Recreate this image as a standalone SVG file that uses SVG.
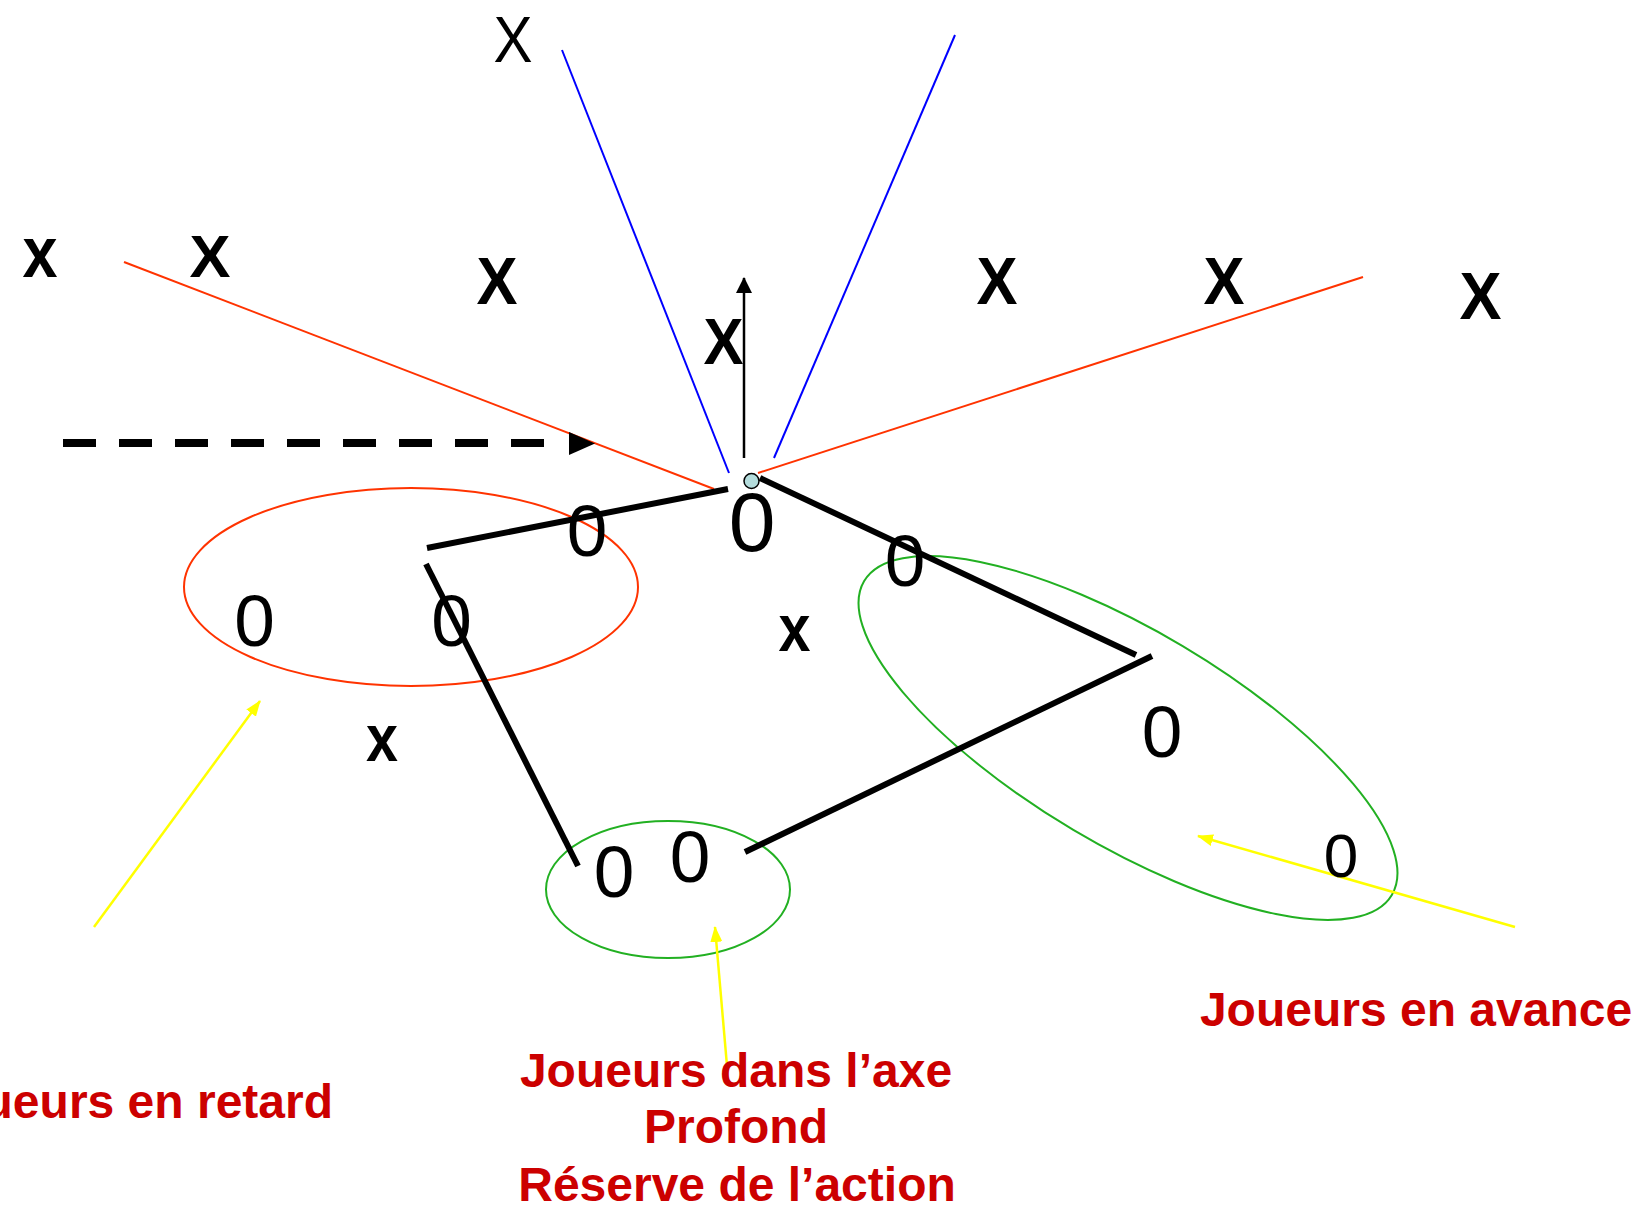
<svg xmlns="http://www.w3.org/2000/svg" width="1633" height="1211" viewBox="0 0 1633 1211">
<style>
.bg{fill:#ffffff}
.red{fill:none;stroke:#ff3300;stroke-width:2}
.blue{fill:none;stroke:#0000ff;stroke-width:2}
.green{fill:none;stroke:#22b022;stroke-width:2}
.yel{fill:none;stroke:#ffff00;stroke-width:2.5}
.thick{fill:none;stroke:#000000;stroke-width:6}
.thin{fill:none;stroke:#000000;stroke-width:2.5}
.dash{fill:none;stroke:#000000;stroke-width:8;stroke-dasharray:33 23}
.zero{font-family:"Liberation Sans",Arial,sans-serif;font-weight:normal;fill:#000000;text-anchor:middle}
.xb{font-family:"Liberation Sans",Arial,sans-serif;font-weight:bold;fill:#000000;text-anchor:middle}
.xr{font-family:"Liberation Sans",Arial,sans-serif;font-weight:normal;fill:#000000;text-anchor:middle}
.lbl{font-family:"Liberation Sans",Arial,sans-serif;font-weight:bold;fill:#cc0000;font-size:48px}
</style>
<defs>
<marker id="ya" viewBox="0 0 16 12" refX="15" refY="6" markerWidth="16" markerHeight="12" markerUnits="userSpaceOnUse" orient="auto">
<path d="M0,0 L16,6 L0,12 z" fill="#ffff00"/>
</marker>
<marker id="ba" viewBox="0 0 16 16" refX="15" refY="8" markerWidth="16" markerHeight="16" markerUnits="userSpaceOnUse" orient="auto">
<path d="M0,0 L16,8 L0,16 z" fill="#000000"/>
</marker>
</defs>
<rect class="bg" x="0" y="0" width="1633" height="1211"/>

<g id="groups">
<ellipse id="retard-zone" class="red" cx="411" cy="587" rx="227" ry="99"/>
<ellipse id="axe-zone" class="green" cx="668" cy="889.5" rx="122" ry="68.5"/>
<ellipse id="avance-zone" class="green" cx="1128" cy="738" rx="307" ry="107" transform="rotate(30.75 1128 738)"/>
</g>

<g id="connectors">
<line class="blue" x1="562" y1="50" x2="729" y2="473"/>
<line class="blue" x1="955" y1="35" x2="774" y2="458"/>
<line class="red" x1="124" y1="262" x2="714" y2="489"/>
<line class="red" x1="758" y1="473" x2="1363" y2="277"/>
<line class="thin" x1="744" y1="458" x2="744" y2="278" marker-end="url(#ba)"/>
<line class="dash" x1="63" y1="443" x2="567" y2="443"/>
<polygon points="569,432 595,443.5 569,455" fill="#000000"/>
<line class="thick" x1="427" y1="548" x2="728" y2="489"/>
<line class="thick" x1="426" y1="564" x2="578" y2="866"/>
<line class="thick" x1="760" y1="478" x2="1136" y2="655"/>
<line class="thick" x1="1152" y1="656" x2="745" y2="852"/>
<line class="yel" x1="94" y1="927" x2="260" y2="701" marker-end="url(#ya)"/>
<line class="yel" x1="727" y1="1066" x2="715" y2="927" marker-end="url(#ya)"/>
<line class="yel" x1="1515" y1="927" x2="1198" y2="836" marker-end="url(#ya)"/>
</g>

<g id="ball">
<circle cx="751.5" cy="481" r="7.5" fill="#b4dcdc" stroke="#000000" stroke-width="1.5"/>
</g>

<g id="opponents">
<text class="xr" x="513" y="62" font-size="64" textLength="39" lengthAdjust="spacingAndGlyphs">X</text>
<text class="xb" x="40" y="277" font-size="73" textLength="35" lengthAdjust="spacingAndGlyphs">x</text>
<text class="xb" x="210" y="277" font-size="60" textLength="41" lengthAdjust="spacingAndGlyphs">X</text>
<text class="xb" x="497" y="304" font-size="66" textLength="41" lengthAdjust="spacingAndGlyphs">X</text>
<text class="xb" x="723.5" y="364" font-size="64" textLength="40" lengthAdjust="spacingAndGlyphs">X</text>
<text class="xb" x="997" y="304" font-size="66" textLength="41" lengthAdjust="spacingAndGlyphs">X</text>
<text class="xb" x="1224" y="304" font-size="66" textLength="41" lengthAdjust="spacingAndGlyphs">X</text>
<text class="xb" x="1480.5" y="319" font-size="66" textLength="42" lengthAdjust="spacingAndGlyphs">X</text>
<text class="xb" x="794.5" y="651" font-size="66" textLength="32" lengthAdjust="spacingAndGlyphs">x</text>
<text class="xb" x="382" y="761" font-size="67" textLength="32" lengthAdjust="spacingAndGlyphs">x</text>
</g>

<g id="players">
<text class="zero" x="254.5" y="646" font-size="73">0</text>
<text class="zero" x="451.5" y="646" font-size="73">0</text>
<text class="zero" x="587" y="556" font-size="73">0</text>
<text class="zero" x="752" y="551" font-size="84">0</text>
<text class="zero" x="905" y="586" font-size="73">0</text>
<text class="zero" x="1162" y="757" font-size="73">0</text>
<text class="zero" x="1341" y="877" font-size="62">0</text>
<text class="zero" x="614" y="897" font-size="73">0</text>
<text class="zero" x="690" y="882" font-size="73">0</text>
</g>

<g id="labels">
<text id="lbl-retard" class="lbl" x="333" y="1118" text-anchor="end">Joueurs en retard</text>
<text id="lbl-avance" class="lbl" x="1416" y="1026" text-anchor="middle">Joueurs en avance</text>
<g id="lbl-axe">
<text class="lbl" x="736" y="1087" text-anchor="middle">Joueurs dans l’axe</text>
<text class="lbl" x="736" y="1143" text-anchor="middle">Profond</text>
<text class="lbl" x="737" y="1201" text-anchor="middle">Réserve de l’action</text>
</g>
</g>
</svg>
